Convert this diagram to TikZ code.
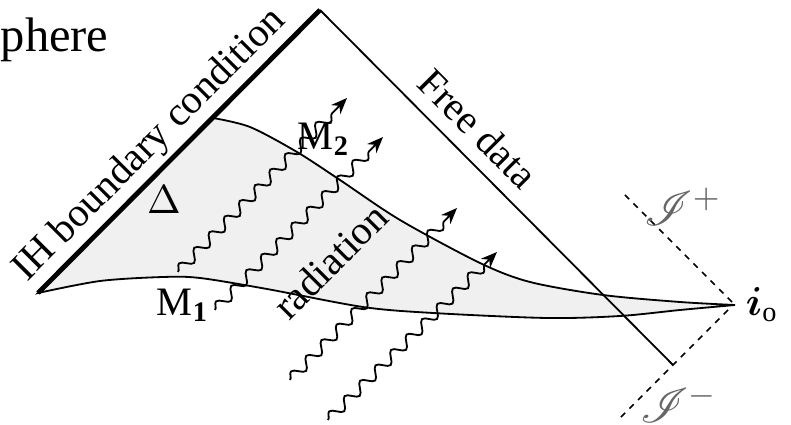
\documentclass[tikz,border=0pt]{standalone}
\usepackage{amsmath, amssymb, bm, mathrsfs}
\usepackage{fontspec}
\setmainfont{Liberation Serif}
\usetikzlibrary{arrows.meta, positioning, decorations.pathmorphing, calc}

\begin{document}
\begin{tikzpicture}[
    x=0.87mm, y=0.87mm,
    horizon/.style={line width=1.2pt},
    boundary/.style={line width=0.45pt},
    region/.style={fill=black!6, draw=black, line width=0.45pt},
    nullray/.style={dash pattern=on 1.5pt off 1.5pt, line width=0.4pt},
    wave/.style={-{Stealth[length=4pt, width=3.2pt]}, line width=0.45pt, decorate,
        decoration={snake, amplitude=1.3pt, segment length=5.4pt, post length=1.2mm}},
    scri/.style={black!60, font=\large}
]
    \useasboundingbox (0,0) rectangle (79.1,42.5);

    % Corners
    \coordinate (A) at (3.8,13.2);
    \coordinate (T) at (32,41.5);
    \coordinate (F) at (67.3,6);
    \coordinate (I) at (73.5,12);
    \coordinate (Jp) at (62.2,23.3);
    \coordinate (Jm) at (62,0.7);

    % Shaded slab between M1 and M2
    \filldraw[region] (A) -- plot[smooth] coordinates {(21.3,30.7) (25,29.8) (29.7,27.3) (34,24.5) (40,20.5) (48,16.2) (53,14.3) (60.3,13) (68,12.3) (73.5,12)}
        -- plot[smooth] coordinates {(73.5,12) (68,11.5) (62,10.9) (54.7,10.7) (43.3,11.2) (36.3,11.8) (26.7,13.6) (20,14.7) (16.3,14.8) (10,14.4) (3.8,13.2)} -- cycle;

    % Horizon and outgoing null surface
    \draw[horizon] (A) -- node[above, sloped, inner sep=1pt, pos=0.46] (ihlabel) {IH boundary condition} (T);
    \draw[boundary] (T) -- node[above, sloped, pos=0.39] (freelabel) {Free data} (F);

    % Null infinity
    \draw[nullray] ($(I)+(-0.3,0.3)$) -- (Jp);
    \draw[nullray] ($(I)+(-0.7,-0.5)$) -- (Jm);

    % Radiation
    \coordinate (w1s) at (17.8,15.3);
    \coordinate (w1e) at (34.7,32.7);
    \coordinate (w2s) at (21.5,11.5);
    \coordinate (w2e) at (38.3,28.8);
    \coordinate (w3s) at (29,4.5);
    \coordinate (w3e) at (45.7,21.7);
    \coordinate (w4s) at (32.8,0.5);
    \coordinate (w4e) at (49.7,17.3);
    \draw[wave] (w1s) -- (w1e);
    \draw[wave] (w2s) -- (w2e);
    \draw[wave] (w3s) -- (w3e);
    \draw[wave] (w4s) -- (w4e);

    % Labels
    \node[anchor=base west, inner sep=0pt, font=\large] (sph) at (0,37.3) {phere};
    \node (delta) at (16.4,22.5) {$\Delta$};
    \node (m1) at (18.3,12) {$\mathrm{M}_{\mathbf{1}}$};
    \node (m2) at (32.4,28.6) {$\mathrm{M}_{\mathbf{2}}$};
    \node[rotate=45] (rad) at (33,16.4) {radiation};
    \node[right, inner sep=2.5pt] (io) at (I) {$\bm{i}_{\mathrm{o}}$};
    \node[scri] (scriplus) at (68.3,21.8) {$\mathscr{I}^{+}$};
    \node[scri] (scriminus) at (67.9,2.1) {$\mathscr{I}^{-}$};
\end{tikzpicture}
\end{document}
